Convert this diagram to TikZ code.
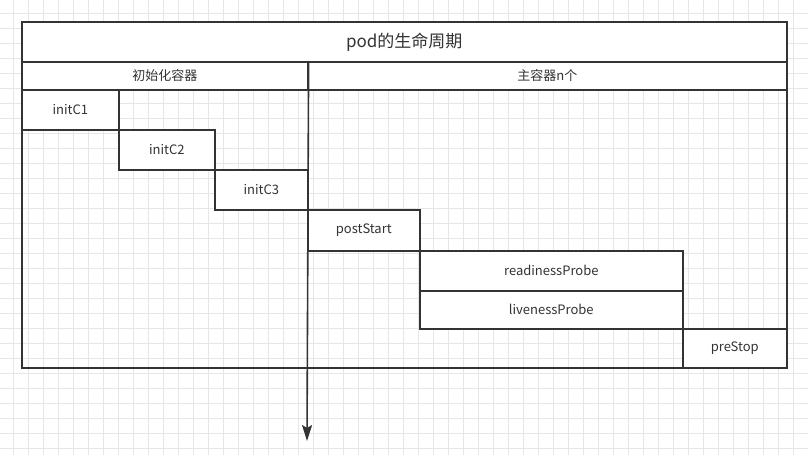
\documentclass[tikz,border=0pt]{standalone}
\usepackage{fontspec}
\setmainfont{Noto Sans CJK SC}
\usepackage{tikz}
\usetikzlibrary{arrows.meta}
\definecolor{inkgray}{HTML}{333333}
\definecolor{gridgray}{HTML}{E6E6E6}
\tikzset{
  cell/.style={draw=inkgray, line width=1.6pt, fill=white, inner sep=0pt,
    text=inkgray, font=\fontsize{13}{15}\selectfont},
  frame/.style={draw=inkgray, line width=1.6pt, inner sep=0pt},
}

\begin{document}
\begin{tikzpicture}[x=1pt, y=-1pt]
      \useasboundingbox (0,0) rectangle (808,455);
      % background grid
      \foreach \x in {13,28,...,808} {
        \draw[gridgray, line width=0.8pt] (\x,0) -- (\x,455);
      }
      \foreach \y in {13,28,...,455} {
        \draw[gridgray, line width=0.8pt] (0,\y) -- (808,\y);
      }
      \node[frame, anchor=north west, minimum width=765pt, minimum height=346pt] (life) at (21,21) {};
      \node[cell, anchor=north west, minimum width=765pt, minimum height=40pt,
        font=\fontsize{17}{19}\selectfont] (title) at (21,21) {pod的生命周期};
      % cells: name / left / top / right / bottom / text
      \foreach \n/\xa/\ya/\xb/\yb/\t in {
          init/21/61/307/89/初始化容器,
          main/307/61/786/89/主容器n个,
          c1/21/89/118/129/initC1,
          c2/118/129/214/169/initC2,
          c3/214/169/307/209/initC3,
          post/307/209/419/250/postStart,
          ready/419/250/682/290/readinessProbe,
          live/419/290/682/328/livenessProbe,
          stop/682/328/786/367/preStop} {
        \node[cell, anchor=north west, minimum width={(\xb-\xa)*1pt},
          minimum height={(\yb-\ya)*1pt}] (\n) at (\xa,\ya) {\t};
      }
      \coordinate (tend) at (307,441);
      \draw[inkgray, line width=1.6pt, -{Stealth[length=16pt, width=10pt, inset=3pt]}] (init.north east) -- (tend);
    \end{tikzpicture}
\end{document}
